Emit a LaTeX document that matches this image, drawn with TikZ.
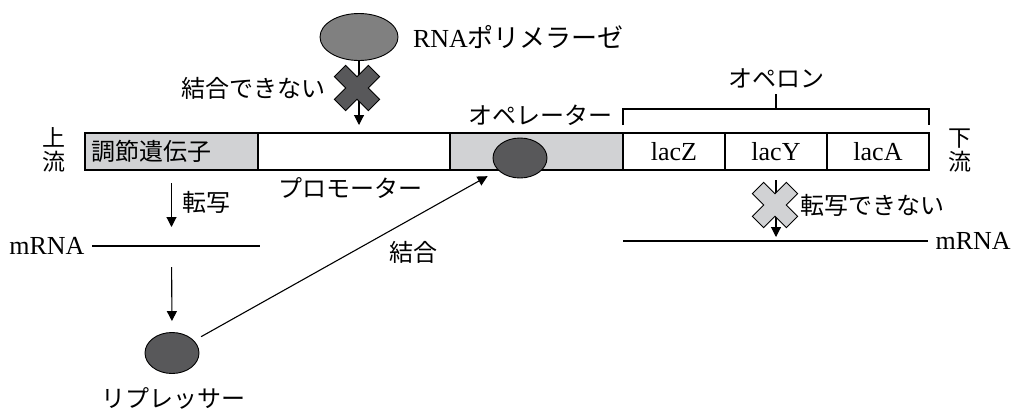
\documentclass[tikz,border=0pt]{standalone}
\usepackage{fontspec}
\setmainfont{Liberation Serif}
\newfontfamily\jp{Noto Sans CJK JP}
\usetikzlibrary{arrows.meta,positioning,shapes.geometric}

\definecolor{boxgray}{HTML}{D1D2D4}
\definecolor{polgray}{HTML}{808080}
\definecolor{repgray}{HTML}{58585A}

\tikzset{
  seg/.style={draw, fill=white, minimum height=37pt, inner sep=0pt, outer sep=0pt,
    font=\fontsize{26}{26}\selectfont},
  blob/.style={draw, ellipse, inner sep=0pt, line width=0.9pt},
  jtxt/.style={inner sep=0pt, font=\jp\fontsize{24}{24}\selectfont},
  ltxt/.style={inner sep=0pt, font=\fontsize{26}{26}\selectfont},
  arr/.style={-{Triangle[length=10pt,width=10pt]}},
  cross/.pic={
    \draw[pic actions, rotate=45] (8,24) -- (8,8) -- (24,8) -- (24,-8) -- (8,-8)
      -- (8,-24) -- (-8,-24) -- (-8,-8) -- (-24,-8) -- (-24,8) -- (-8,8) -- (-8,24) -- cycle;
  }
}

\begin{document}
\begin{tikzpicture}[x=1pt, y=-1pt, line width=1.1pt]
  \useasboundingbox (0,0) rectangle (1011,408);
  % the DNA strip:
  \node[seg, fill=boxgray, minimum width=173pt, text width=161pt, inner xsep=6pt,
    align=left, anchor=north west, font=\jp\fontsize{24}{24}\selectfont] (reg) at (85,133) {調節遺伝子};
  \node[seg, minimum width=192pt, right=0pt of reg] (prom) {};
  \node[seg, fill=boxgray, minimum width=173pt, right=0pt of prom] (opr) {};
  \node[seg, minimum width=102pt, right=0pt of opr] (lacZ) {lacZ};
  \node[seg, minimum width=102pt, right=0pt of lacZ] (lacY) {lacY};
  \node[seg, minimum width=102pt, right=0pt of lacY] (lacA) {lacA};
  \node[jtxt, align=center, font=\jp\fontsize{23}{24}\selectfont] (up) at (54,150) {上\\流};
  \node[jtxt, align=center, font=\jp\fontsize{23}{24}\selectfont] (down) at (960,151) {下\\流};
  \node[jtxt] (promtxt) at (350,188) {プロモーター};
  \node[jtxt] (oprtxt) at (540,115) {オペレーター};
  % operon bracket:
  \draw ([yshift=8pt]lacZ.north west) -- ([yshift=24pt]lacZ.north west)
    -- ([yshift=24pt]lacA.north east) -- ([yshift=8pt]lacA.north east);
  \draw ([yshift=24pt]lacY.north) -- ([yshift=39pt]lacY.north);
  \node[jtxt] (operon) at (776,78) {オペロン};
  % RNA polymerase cannot bind:
  \node[blob, fill=polgray, minimum width=78pt, minimum height=47pt] (pol) at (359,37) {};
  \node[ltxt, right=14pt of pol] (poltxt) {RNA{\jp ポリメラーゼ}};
  \draw[arr, shorten >=8pt] (pol.south) -- (pol.south |- prom.north);
  \coordinate (nobind) at (357,88);
  \pic[fill=repgray, line width=0.9pt] at (nobind) {cross};
  \node[jtxt, anchor=east] (nobindtxt) at ([xshift=-31pt]nobind) {結合できない};
  % repressor bound on the operator:
  \node[blob, fill=repgray, minimum width=54pt, minimum height=40pt] (bound) at (520,158) {};
  % regulator gene -> mRNA -> repressor:
  \coordinate (mL1) at (92,246);
  \coordinate (mL2) at (260,246);
  \draw (mL1) -- (mL2);
  \node[ltxt, anchor=east] (mrnaL) at ([xshift=-7pt]mL1) {mRNA};
  \draw[arr, shorten <=13pt, shorten >=19pt] (reg.south) -- (reg.south |- mL1);
  \node[jtxt, anchor=west] (tr) at (182,202) {転写};
  \node[blob, fill=repgray, minimum width=54pt, minimum height=41pt] (rep) at (172,353) {};
  \node[jtxt] (reptxt) at (173,398) {リプレッサー};
  \draw[arr, shorten <=21pt, shorten >=11pt] (reg.south |- mL1) -- (rep.north);
  \draw[arr, shorten <=8pt, shorten >=12pt] (rep) -- (bound);
  \node[jtxt] (bind) at (413,252) {結合};
  % no transcription of the operon:
  \coordinate (mR1) at (623,241);
  \coordinate (mR2) at (928,241);
  \draw (mR1) -- (mR2);
  \node[ltxt, anchor=west] (mrnaR) at ([xshift=7pt]mR2) {mRNA};
  \draw[arr, shorten <=10pt, shorten >=4pt] (lacY.south) -- (lacY.south |- mR1);
  \coordinate (notr) at (775,205);
  \pic[fill=boxgray, line width=0.9pt] at (notr) {cross};
  \node[jtxt, anchor=west] (notrtxt) at ([xshift=25pt]notr) {転写できない};
\end{tikzpicture}
\end{document}
